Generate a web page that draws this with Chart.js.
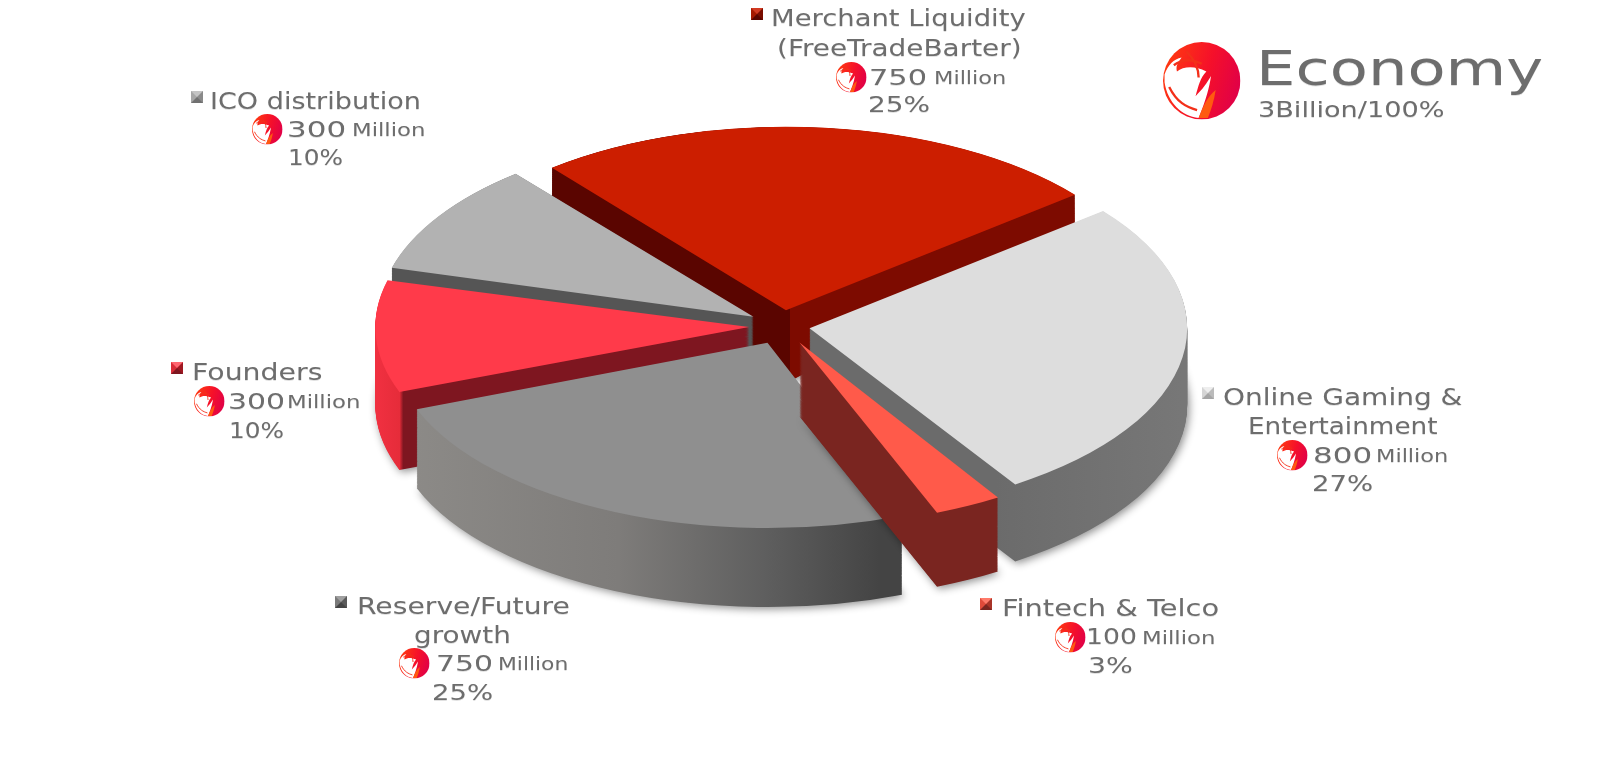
<!DOCTYPE html>
<html><head><meta charset="utf-8">
<script src="https://cdn.jsdelivr.net/npm/chart.js@4"></script>
<style>
html,body{margin:0;padding:0;background:#fff;width:1600px;height:758px;overflow:hidden}
#wrap{position:relative;width:1600px;height:758px}
canvas{position:absolute;left:0;top:0}
.t{position:absolute;white-space:pre;color:#6d6d6d;font-family:"DejaVu Sans",sans-serif;transform-origin:0 50%;line-height:1;text-shadow:0 1px 0 rgba(0,0,0,.12)}
.sq{position:absolute;width:0;height:0;border-style:solid;border-width:6.5px}
svg.ic{position:absolute;overflow:visible}
</style></head><body>
<div id="wrap"><canvas id="c" width="1600" height="758"></canvas></div>
<svg width="0" height="0" style="position:absolute"><defs>
<linearGradient id="rg" x1="0" x2="1" y1="0.3" y2="0.6"><stop offset="0" stop-color="#ff3a10"/><stop offset=".55" stop-color="#f5102a"/><stop offset="1" stop-color="#e00048"/></linearGradient>
<symbol id="logo" viewBox="0 0 100 100"><circle cx="50" cy="50" r="50" fill="url(#rg)"/>
<path d="M2 42C6 30 14 22 24 20C20 26 16 30 18 38C26 32 40 30 56 38C48 46 46 56 42 70C52 60 56 54 62 44C60 58 56 74 46 98C24 96 6 78 2 52Z" fill="#fff"/>
<path d="M14 30C24 22 38 22 50 28M8 58C18 78 30 84 44 88M30 12C40 22 46 34 46 46" stroke="#f3301a" stroke-width="3" fill="none"/>
<path d="M46 98C52 82 58 70 68 62C66 76 62 88 58 98Z" fill="#ff5a10"/></symbol>
</defs></svg>
<script>
const categories = ["Merchant Liquidity (FreeTradeBarter)", "Online Gaming & Entertainment", "Fintech & Telco", "Reserve/Future growth", "Founders", "ICO distribution"];
const tokenValues = [750, 800, 100, 750, 300, 300];
const percentLabels = ["25%", "27%", "3%", "25%", "10%", "10%"];
const topColors = ["#cc1e00", "#dddddd", "#ff5a4a", "#8f8f8f", "#ff3a4a", "#b2b2b2"];
const sliceOffsets = [104, 88, 120, 120, 108, 112];
const sliceScale = [1, 1.015, 0.92, 1.01, 0.968, 0.97];

// drawing style
const K = 1.019;
const RADIUS = 300, SX = K * 365 / 300, SY = K * 0.6, CX = K * 768, CY = K * 320;
const drawOrder = [0, 5, 1, 4, 3, 2];
const wallDepth = [78, 77, 74, 79, 78, 60];
const wallSlope = [0.31, 0, 0, 0, 0, 0.23];
const wallStops = [
  [[0, "#5a0500"], [0.505, "#5a0500"], [0.505, "#7d0b00"], [1, "#7d0b00"]],
  [[0, "#6b6b6b"], [0.75, "#6b6b6b"], [1, "#777777"]],
  [[0, "#7a2520"], [1, "#7a2520"]],
  [[0, "#8d8b88"], [0.3, "#7e7c7a"], [0.5, "#5e5e5e"], [0.65, "#444444"], [1, "#444444"]],
  [[0, "#f03040"], [0.03, "#e62c3a"], [0.035, "#7e1620"], [1, "#7e1620"]],
  [[0, "#555555"], [1, "#555555"]]
];

const pie3d = {
  id: 'pie3d',
  beforeDatasetDraw(chart, args) {
    const ctx = chart.ctx, els = chart.getDatasetMeta(args.index).data;
    const ox = els[0].x, oy = els[0].y;
    const place = (t, k, d) => {
      ctx.translate(CX, CY + t * d);
      ctx.scale(SX, SY * (1 + k * t));
      ctx.translate(-ox, -oy);
    };
    drawOrder.forEach(i => {
      const el = els[i], o = el.options;
      el.outerRadius = RADIUS * sliceScale[i];
      const grad = ctx.createLinearGradient(ox - RADIUS, 0, ox + RADIUS, 0);
      wallStops[i].forEach(s => grad.addColorStop(s[0], s[1]));
      const d = wallDepth[i], k = wallSlope[i];
      const n = Math.ceil(d * 1.3);
      for (let j = n; j >= 1; j--) {
        const t = j / n;
        ctx.save();
        if (j === n) { ctx.shadowColor = 'rgba(0,0,0,.45)'; ctx.shadowBlur = 8; ctx.shadowOffsetY = 2; ctx.shadowOffsetX = 2; }
        place(t, k, d);
        el.options = Object.assign(Object.create(o), { backgroundColor: grad, borderWidth: 0 });
        el.draw(ctx);
        ctx.restore();
      }
      el.options = o;
      ctx.save();
      place(0, 0, 0);
      el.draw(ctx);
      ctx.restore();
    });
    return false;
  }
};

new Chart(document.getElementById('c'), {
  type: 'pie',
  data: { labels: categories, datasets: [{ data: tokenValues, backgroundColor: topColors, offset: sliceOffsets, borderWidth: 0, clip: false }] },
  options: {
    responsive: false, animation: false, rotation: -39, radius: RADIUS,
    layout: { padding: 0 },
    plugins: { legend: { display: false }, tooltip: { enabled: false } },
    events: []
  },
  plugins: [pie3d]
});

// annotation text: [text, left, right, centre y, font px]
const num = i => String(tokenValues[i]);
const texts = [
  ["Merchant Liquidity", 757, 1007, 18, 22],
  ["(FreeTradeBarter)", 763, 1003, 47, 22],
  [num(0), 853, 910, 76, 21], ["Million", 917, 988, 77, 18], [percentLabels[0], 852, 913, 103, 21],
  ["ICO distribution", 206, 413, 99, 22],
  [num(5), 282, 340, 127, 21], ["Million", 345, 417, 128, 18], [percentLabels[5], 283, 337, 155, 21],
  ["Founders", 188, 316, 365, 22],
  [num(4), 224, 280, 394, 21], ["Million", 282, 354, 395, 18], [percentLabels[4], 225, 279, 423, 21],
  ["Online Gaming &", 1200, 1435, 390, 22],
  ["Entertainment", 1225, 1411, 418, 22],
  [num(1), 1289, 1347, 447, 21], ["Million", 1350, 1421, 448, 18], [percentLabels[1], 1288, 1348, 475, 21],
  ["Fintech & Telco", 983, 1196, 597, 22],
  [num(2), 1066, 1116, 625, 21], ["Million", 1121, 1193, 626, 18], [percentLabels[2], 1068, 1112, 653, 21],
  ["Reserve/Future", 350, 559, 595, 22],
  ["growth", 406, 501, 623, 22],
  [num(3), 428, 484, 651, 21], ["Million", 489, 558, 652, 18], [percentLabels[3], 424, 484, 680, 21],
  ["Economy", 1233, 1515, 68, 47],
  ["3Billion/100%", 1235, 1418, 108, 21]
];
const wrap = document.getElementById('wrap');
texts.forEach(([s, l, r, y, f]) => {
  const e = document.createElement('div');
  e.className = 't'; e.textContent = s;
  e.style.fontSize = (f * K) + 'px'; e.style.left = (l * K) + 'px'; e.style.top = ((y * K) - f * K / 2) + 'px';
  wrap.appendChild(e);
  const sx = K * (r - l) / e.getBoundingClientRect().width;
  e.style.transform = 'scaleX(' + sx.toFixed(3) + ')';
});
// logos: [centre x, centre y, radius]
[[262, 127, 15], [205, 394, 15], [835, 76, 15], [1268, 447, 15], [1050, 625, 15], [407, 651, 15], [1179, 79, 38]].forEach(([x, y, r]) => {
  const ns = 'http://www.w3.org/2000/svg';
  const s = document.createElementNS(ns, 'svg');
  const R = r * K;
  s.setAttribute('class', 'ic'); s.setAttribute('width', 2 * R); s.setAttribute('height', 2 * R);
  s.style.left = (x * K - R) + 'px'; s.style.top = (y * K - R) + 'px';
  const u = document.createElementNS(ns, 'use'); u.setAttribute('href', '#logo');
  u.setAttribute('width', 2 * R); u.setAttribute('height', 2 * R);
  s.appendChild(u); wrap.appendChild(s);
});
// bevelled legend squares: [left, top, base colours top/right/bottom/left]
[[737, 8, "#d23a22 #7a0d00 #5a0500 #a51800"], [187, 89, "#c4c4c4 #8a8a8a #707070 #a6a6a6"], [168, 355, "#ff6670 #a01822 #7e1620 #d82c38"],
 [1180, 380, "#eeeeee #bbbbbb #a5a5a5 #d5d5d5"], [962, 587, "#ff7a6a #a83428 #7a2520 #e04a3a"], [329, 585, "#a0a0a0 #5a5a5a #444444 #7a7a7a"]].forEach(([x, y, c]) => {
  const e = document.createElement('div'); e.className = 'sq';
  e.style.left = (x * K) + 'px'; e.style.top = (y * K) + 'px'; e.style.borderColor = c; wrap.appendChild(e);
});
</script>
</div></body></html>
